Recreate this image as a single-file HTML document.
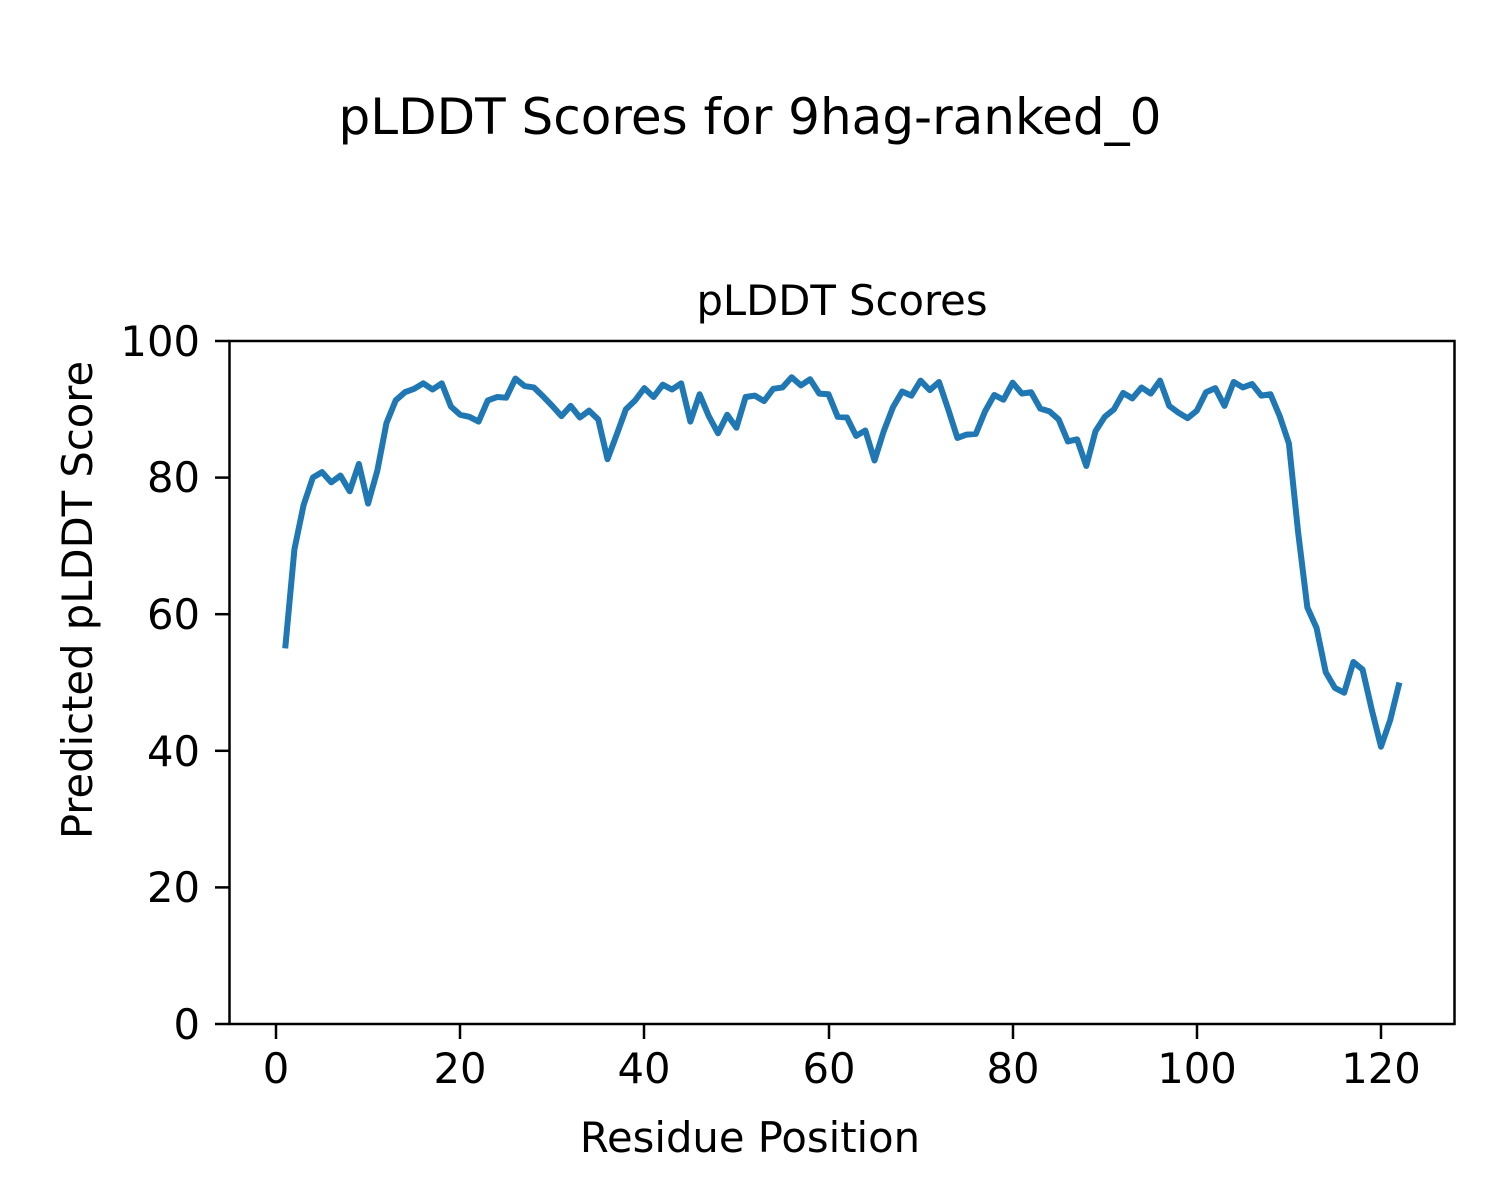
<!DOCTYPE html>
<html><head><style>
html,body{margin:0;padding:0;background:#fff}
svg{display:block}
text{font-family:"DejaVu Sans","Liberation Sans",sans-serif;fill:#000}
</style></head><body>
<svg width="1500" height="1200" viewBox="0 0 1500 1200" xmlns="http://www.w3.org/2000/svg">
<rect width="1500" height="1200" fill="#fff"/>
<text x="750" y="134" font-size="50" text-anchor="middle">pLDDT Scores for 9hag-ranked_0</text>
<text x="842" y="315" font-size="41.7" text-anchor="middle">pLDDT Scores</text>
<g transform="translate(276,1024) scale(9.2083,-6.83)">
<polyline fill="none" stroke="#1f77b4" stroke-width="6" vector-effect="non-scaling-stroke" stroke-linejoin="round" points="1,55 2,69.5 3,76 4,80 5,80.8 6,79.3 7,80.3 8,78 9,82 10,76.2 11,81 12,88 13,91.3 14,92.5 15,93 16,93.8 17,92.9 18,93.8 19,90.4 20,89.2 21,88.9 22,88.2 23,91.3 24,91.8 25,91.7 26,94.5 27,93.4 28,93.2 29,91.9 30,90.5 31,89 32,90.5 33,88.8 34,89.8 35,88.5 36,82.7 37,86.3 38,90 39,91.3 40,93.1 41,91.8 42,93.6 43,92.9 44,93.8 45,88.2 46,92.2 47,89 48,86.5 49,89.2 50,87.3 51,91.8 52,92 53,91.2 54,93 55,93.2 56,94.7 57,93.5 58,94.4 59,92.3 60,92.2 61,88.9 62,88.8 63,86.1 64,86.9 65,82.5 66,86.8 67,90.3 68,92.6 69,92 70,94.2 71,92.8 72,94 73,90 74,85.8 75,86.3 76,86.4 77,89.7 78,92.1 79,91.4 80,93.9 81,92.3 82,92.5 83,90.1 84,89.7 85,88.5 86,85.3 87,85.6 88,81.7 89,86.8 90,88.9 91,90 92,92.4 93,91.6 94,93.2 95,92.3 96,94.2 97,90.5 98,89.5 99,88.7 100,89.8 101,92.5 102,93.1 103,90.5 104,94 105,93.2 106,93.7 107,92 108,92.2 109,89 110,85 111,72 112,61 113,58 114,51.5 115,49.2 116,48.5 117,53 118,51.9 119,46 120,40.6 121,44.5 122,50"/>
</g>
<rect x="229.5" y="341" width="1225" height="683" fill="none" stroke="#000" stroke-width="2.5"/>
<g stroke="#000" stroke-width="2.5">
<line x1="276" y1="1024" x2="276" y2="1039"/>
<line x1="460" y1="1024" x2="460" y2="1039"/>
<line x1="644" y1="1024" x2="644" y2="1039"/>
<line x1="829" y1="1024" x2="829" y2="1039"/>
<line x1="1013" y1="1024" x2="1013" y2="1039"/>
<line x1="1197" y1="1024" x2="1197" y2="1039"/>
<line x1="1381" y1="1024" x2="1381" y2="1039"/>
<line x1="215" y1="1024" x2="229.5" y2="1024"/>
<line x1="215" y1="887.4" x2="229.5" y2="887.4"/>
<line x1="215" y1="750.8" x2="229.5" y2="750.8"/>
<line x1="215" y1="614.2" x2="229.5" y2="614.2"/>
<line x1="215" y1="477.6" x2="229.5" y2="477.6"/>
<line x1="215" y1="341" x2="229.5" y2="341"/>
</g>
<g font-size="41.7" text-anchor="middle">
<text x="276" y="1083">0</text>
<text x="460" y="1083">20</text>
<text x="644" y="1083">40</text>
<text x="829" y="1083">60</text>
<text x="1013" y="1083">80</text>
<text x="1197" y="1083">100</text>
<text x="1381" y="1083">120</text>
</g>
<g font-size="41.7" text-anchor="end">
<text x="200" y="1039">0</text>
<text x="200" y="902">20</text>
<text x="200" y="766">40</text>
<text x="200" y="629">60</text>
<text x="200" y="492">80</text>
<text x="200" y="356">100</text>
</g>
<text x="750" y="1152" font-size="41.7" text-anchor="middle">Residue Position</text>
<text transform="translate(92,600) rotate(-90)" font-size="41.7" text-anchor="middle">Predicted pLDDT Score</text>
</svg>
</body></html>
